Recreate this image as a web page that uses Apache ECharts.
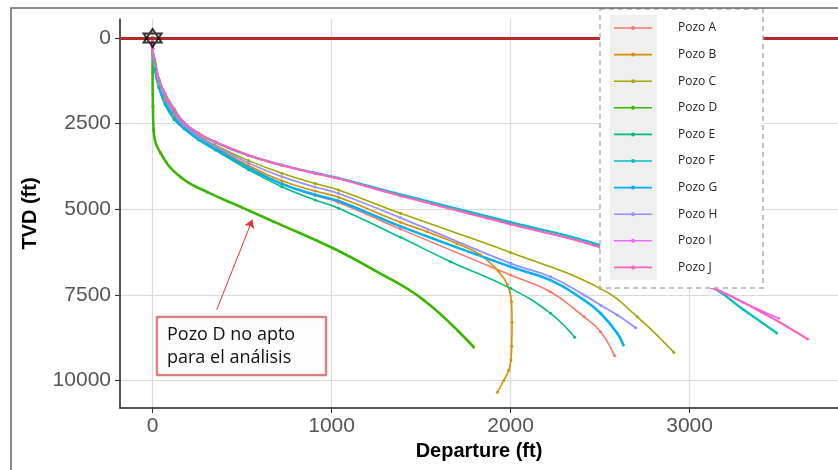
<!DOCTYPE html>
<html>
<head>
<meta charset="utf-8">
<script src="https://cdn.jsdelivr.net/npm/echarts@6/dist/echarts.min.js"></script>
<style>
  html, body { margin: 0; padding: 0; background: #fff; }
  #chart { width: 838px; height: 470px; }
</style>
</head>
<body>
<div id="chart"></div>
<script>
// Trayectorias de pozos: [departure (ft), TVD (ft)]
const pozoA = [[0,0],[0,300],[12,860],[35,1400],[70,1880],[120,2310],[175,2610],[257,2940],[350,3220],[536,3760],[722,4250],[908,4600],[1039,4800],[1385,5580],[2000,6920],[2223,7410],[2410,8140],[2503,8580],[2581,9280]];
const pozoB = [[0,0],[0,300],[12,820],[35,1360],[70,1830],[120,2260],[175,2580],[257,2910],[350,3190],[536,3720],[722,4170],[908,4470],[1039,4650],[1385,5380],[1535,5660],[1700,6000],[1832,6330],[1930,6800],[1982,7200],[2005,7700],[2008,8300],[2006,9000],[2002,9400],[1990,9700],[1962,10000],[1926,10340]];
const pozoC = [[0,0],[0,300],[12,730],[35,1280],[70,1730],[120,2170],[175,2520],[257,2850],[350,3130],[536,3580],[722,3950],[908,4250],[1039,4440],[1385,5120],[2000,6260],[2500,7310],[2708,8140],[2912,9180]];
const pozoD = [[0,0],[0,1000],[2,2000],[6,2700],[45,3360],[156,4060],[307,4500],[492,4930],[676,5360],[1006,6130],[1235,6770],[1514,7650],[1793,9020]];
const pozoE = [[0,0],[0,300],[12,930],[35,1450],[70,1950],[120,2380],[175,2650],[257,2980],[350,3270],[536,3850],[722,4340],[908,4730],[1039,4970],[1385,5820],[1665,6530],[2000,7310],[2223,8040],[2358,8740]];
const pozoF = [[0,0],[0,300],[12,650],[35,1210],[70,1640],[120,2080],[175,2470],[257,2790],[350,3040],[536,3430],[722,3710],[908,3940],[1039,4090],[1385,4570],[2000,5380],[2500,6050],[3117,7270],[3300,7930],[3486,8610]];
const pozoG = [[0,0],[0,300],[12,880],[35,1420],[70,1900],[120,2330],[175,2620],[257,2950],[350,3240],[536,3790],[722,4260],[908,4580],[1039,4760],[1385,5500],[2000,6680],[2223,7070],[2410,7650],[2503,8040],[2596,8620],[2630,8960]];
const pozoH = [[0,0],[0,300],[12,780],[35,1320],[70,1780],[120,2220],[175,2550],[257,2880],[350,3160],[536,3650],[722,4050],[908,4350],[1039,4540],[1385,5250],[2000,6580],[2223,6970],[2410,7500],[2503,7800],[2596,8090],[2698,8460]];
const pozoI = [[0,0],[0,300],[12,640],[35,1200],[70,1630],[120,2070],[175,2460],[257,2780],[350,3030],[536,3420],[722,3710],[908,3950],[1039,4100],[1385,4600],[2000,5430],[2500,6100],[3117,7270],[3300,7720],[3497,8180]];
const pozoJ = [[0,0],[0,300],[12,645],[35,1205],[70,1635],[120,2075],[175,2465],[257,2785],[350,3035],[536,3425],[722,3715],[908,3955],[1039,4105],[1385,4610],[2000,5440],[2500,6110],[3117,7270],[3400,8000],[3659,8790]];

const wellNames = ['Pozo A', 'Pozo B', 'Pozo C', 'Pozo D', 'Pozo E', 'Pozo F', 'Pozo G', 'Pozo H', 'Pozo I', 'Pozo J'];
const wellData = [pozoA, pozoB, pozoC, pozoD, pozoE, pozoF, pozoG, pozoH, pozoI, pozoJ];
const wellColors = ['#F8766D', '#D89000', '#A3A500', '#39B600', '#00BF7D', '#00BFC4', '#00B0F6', '#9590FF', '#E76BF3', '#FF62BC'];
const wellWidths = [1.6, 1.6, 1.6, 2.6, 1.6, 2.4, 2.6, 1.8, 1.6, 2];

const xTicks = [0, 1000, 2000, 3000];
const yTicks = [0, 2500, 5000, 7500, 10000];

// flecha de la nota (desde la caja hacia el pozo D)
const arrowFrom = [358, 7940];
const arrowTo = [557, 5310];

const chart = echarts.init(document.getElementById('chart'));

const legendIcon = 'path://M0,1.2 L38,1.2 L38,2.8 L0,2.8 Z M19,0 A2,2 0 1 1 19,4 A2,2 0 1 1 19,0 Z';
const hexagram = 'path://M0,-10 L8.66,5 L-8.66,5 Z M0,10 L8.66,-5 L-8.66,-5 Z';

const wellSeries = wellData.map((d, i) => ({
  name: wellNames[i],
  type: 'line',
  data: d,
  smooth: 0.45,
  showSymbol: true,
  symbol: 'circle',
  symbolSize: 3,
  lineStyle: { width: wellWidths[i], color: wellColors[i] },
  itemStyle: { color: wellColors[i] },
  z: 3
}));

// flecha anotación sobre el pozo D
wellSeries[3].markLine = {
  silent: true,
  symbol: ['none', 'arrow'],
  symbolSize: 8,
  label: { show: false },
  lineStyle: { color: '#e8302a', width: 1, type: 'solid' },
  data: [[{ coord: arrowFrom }, { coord: arrowTo }]]
};

const option = {
  animation: false,
  backgroundColor: '#fff',
  grid: { left: 120, top: 19, right: 0, bottom: 62 },
  xAxis: {
    type: 'value',
    min: -182,
    max: 3829,
    name: 'Departure (ft)',
    nameLocation: 'middle',
    nameGap: 32,
    nameTextStyle: { fontSize: 20, fontWeight: 'bold', color: '#000', fontFamily: 'Liberation Sans' },
    axisLine: { show: true, onZero: false, lineStyle: { color: '#222', width: 1.5 } },
    axisTick: { show: true, length: 5, lineStyle: { color: '#333' }, customValues: xTicks },
    axisLabel: { fontSize: 21, color: '#555', margin: 8, fontFamily: 'Liberation Sans', customValues: xTicks, formatter: v => String(v) },
    splitLine: { show: true, lineStyle: { color: '#dadada', width: 1.2 } }
  },
  yAxis: {
    type: 'value',
    inverse: true,
    min: -555,
    max: 10803,
    name: 'TVD (ft)',
    nameLocation: 'middle',
    nameGap: 80,
    nameRotate: 90,
    nameTextStyle: { fontSize: 20, fontWeight: 'bold', color: '#000', fontFamily: 'Liberation Sans' },
    axisLine: { show: true, onZero: false, lineStyle: { color: '#222', width: 1.5 } },
    axisTick: { show: true, length: 5, lineStyle: { color: '#333' }, customValues: yTicks },
    axisLabel: { fontSize: 21, color: '#555', margin: 9, fontFamily: 'Liberation Sans', customValues: yTicks, formatter: v => String(v) },
    splitLine: { show: true, lineStyle: { color: '#dadada', width: 1.2 } }
  },
  legend: {
    orient: 'vertical',
    left: 614,
    top: 21,
    padding: 0,
    itemWidth: 38,
    itemHeight: 4,
    itemGap: 12.6,
    icon: legendIcon,
    data: wellNames,
    textStyle: { fontSize: 12, color: '#222', fontFamily: 'Open Sans', lineHeight: 14, padding: [0, 0, 0, 21] },
    z: 10
  },
  graphic: [
    // caja de la leyenda
    { type: 'rect', z: 9, shape: { x: 600, y: 9, width: 163, height: 279 },
      style: { fill: '#fff', stroke: '#b0b0b0', lineWidth: 1.5, lineDash: [5, 4] } },
    { type: 'rect', z: 9, shape: { x: 610, y: 15, width: 47, height: 265 },
      style: { fill: '#efefef' } },
    // marco exterior
    { type: 'rect', z: 11, shape: { x: 11, y: 8, width: 840, height: 470 },
      style: { fill: 'none', stroke: '#666', lineWidth: 1.5 } },
    // nota pozo D
    { type: 'rect', z: 9, shape: { x: 157, y: 317, width: 169, height: 58 },
      style: { fill: '#fdfdfd', stroke: '#e06060', lineWidth: 1.5, shadowBlur: 3, shadowColor: 'rgba(0,0,0,0.25)' } },
    { type: 'text', z: 10, style: { x: 167, y: 323, text: 'Pozo D no apto\npara el análisis',
      fontSize: 18, fontFamily: 'Open Sans', fill: '#111', lineHeight: 23 } }
  ],
  series: [
    ...wellSeries,
    {
      name: 'origen',
      type: 'scatter',
      data: [[0, 0]],
      symbol: hexagram,
      symbolSize: 18,
      itemStyle: { color: 'rgba(0,0,0,0)', borderColor: '#000', borderWidth: 2 },
      z: 6,
      markLine: {
        silent: true,
        symbol: 'none',
        label: { show: false },
        lineStyle: { color: '#b22a2a', width: 3, type: 'solid' },
        data: [{ yAxis: 0 }]
      }
    }
  ]
};

chart.setOption(option);
</script>
</body>
</html>
